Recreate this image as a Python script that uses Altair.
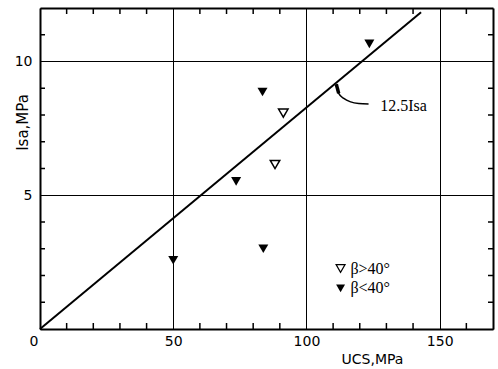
import altair as alt
import pandas as pd

# ---- data ----
filled_ucs = [50, 73.6, 83.5, 83.8, 123.6]
filled_isa = [2.57, 5.52, 8.86, 3.0, 10.66]
open_ucs = [91.3, 88.2]
open_isa = [8.07, 6.15]

fit_ucs = [0, 143]
fit_isa = [0, 11.84]

arc_ucs = [111.2, 112.1, 114.0, 116.6, 119.6, 123.3]
arc_isa = [9.15, 8.81, 8.62, 8.49, 8.43, 8.41]

label_ucs = [127.7]
label_isa = [8.34]
label_txt = ["12.5Isa"]

legend_sym_ucs = [112.8, 112.8]
legend_sym_isa = [2.26, 1.52]
legend_txt_ucs = [116.5, 116.5]
legend_txt = ["β>40°", "β<40°"]

x_major = [0, 50, 100, 150]
y_major = [5, 10]
x_minor = [10, 20, 30, 40, 60, 70, 80, 90, 110, 120, 130, 140, 160]
y_minor = [1, 2, 3, 4, 6, 7, 8, 9, 11]

W, H = 453, 321
XD, YD = [0, 170], [0, 12]

xs = alt.Scale(domain=XD, nice=False, zero=False)
ys = alt.Scale(domain=YD, nice=False, zero=False)

filled_df = pd.DataFrame({"ucs": filled_ucs, "isa": filled_isa})
open_df = pd.DataFrame({"ucs": open_ucs, "isa": open_isa})
fit_df = pd.DataFrame({"ucs": fit_ucs, "isa": fit_isa})
arc_df = pd.DataFrame({"ucs": arc_ucs, "isa": arc_isa, "o": list(range(len(arc_ucs)))})
lab_df = pd.DataFrame({"ucs": label_ucs, "isa": label_isa, "t": label_txt})
leg_open = pd.DataFrame({"ucs": legend_sym_ucs[:1], "isa": legend_sym_isa[:1]})
leg_fill = pd.DataFrame({"ucs": legend_sym_ucs[1:], "isa": legend_sym_isa[1:]})
leg_txt = pd.DataFrame({"ucs": legend_txt_ucs, "isa": legend_sym_isa, "t": legend_txt})

# inward minor tick segments (length: ~6 px vertical, ~5 px horizontal, in data units)
TX = 5 * (XD[1] - XD[0]) / W
TY = 6 * (YD[1] - YD[0]) / H
seg_rows = []
for v in x_minor:
    seg_rows += [{"id": f"b{v}", "o": 0, "ucs": v, "isa": YD[0]},
                 {"id": f"b{v}", "o": 1, "ucs": v, "isa": YD[0] + TY},
                 {"id": f"t{v}", "o": 0, "ucs": v, "isa": YD[1]},
                 {"id": f"t{v}", "o": 1, "ucs": v, "isa": YD[1] - TY}]
for v in y_minor:
    seg_rows += [{"id": f"l{v}", "o": 0, "ucs": XD[0], "isa": v},
                 {"id": f"l{v}", "o": 1, "ucs": XD[0] + TX, "isa": v},
                 {"id": f"r{v}", "o": 0, "ucs": XD[1], "isa": v},
                 {"id": f"r{v}", "o": 1, "ucs": XD[1] - TX, "isa": v}]
seg_df = pd.DataFrame(seg_rows)

# frame: axis domains (left/bottom) + grid lines at the far edges (right/top)
x_axis = alt.Axis(
    values=x_major + [XD[1]], grid=True, gridColor="black", gridOpacity=1,
    gridWidth={"condition": {"test": "datum.value == 170", "value": 2}, "value": 1},
    domain=True, domainColor="black", domainWidth=2,
    ticks=False, labelFont="DejaVu Sans", labelFontSize=14,
    labelColor="black", labelPadding=5,
    labelExpr="datum.value == 170 ? '' : datum.label",
    labelOffset={"condition": {"test": "datum.value == 0", "value": -11}, "value": 0},
    title="UCS,MPa", titleFont="DejaVu Sans", titleFontSize=14,
    titleFontWeight="normal", titleColor="black", titleX=332, titleY=34,
    titleAlign="center", titleBaseline="alphabetic",
)
y_axis = alt.Axis(
    values=[YD[0]] + y_major + [YD[1]], grid=True, gridColor="black", gridOpacity=1,
    gridWidth={"condition": {"test": "datum.value == 12", "value": 2}, "value": 1},
    domain=True, domainColor="black", domainWidth=2,
    ticks=False, labelFont="DejaVu Sans", labelFontSize=14,
    labelColor="black", labelPadding=8,
    labelExpr="(datum.value == 0 || datum.value == 12) ? '' : datum.label",
    title="Isa,MPa", titleFont="DejaVu Sans", titleFontSize=15,
    titleFontWeight="normal", titleColor="black", titleAngle=270,
    titleX=-18, titleY=114, titleAlign="center", titleBaseline="middle",
)

filled = alt.Chart(filled_df).mark_point(
    shape="triangle-down", filled=True, color="black", size=100, opacity=1
).encode(
    x=alt.X("ucs:Q", scale=xs, axis=x_axis),
    y=alt.Y("isa:Q", scale=ys, axis=y_axis),
)
opened = alt.Chart(open_df).mark_point(
    shape="triangle-down", filled=False, color="black", size=90, strokeWidth=1.5, opacity=1
).encode(x=alt.X("ucs:Q", scale=xs), y=alt.Y("isa:Q", scale=ys))

fit = alt.Chart(fit_df).mark_line(color="black", strokeWidth=2).encode(
    x=alt.X("ucs:Q", scale=xs), y=alt.Y("isa:Q", scale=ys)
)
arc = alt.Chart(arc_df).mark_line(color="black", strokeWidth=1.5, interpolate="monotone").encode(
    x=alt.X("ucs:Q", scale=xs), y=alt.Y("isa:Q", scale=ys), order="o:Q"
)
arc_head = alt.Chart(arc_df.iloc[:2]).mark_line(color="black", strokeWidth=3.5).encode(
    x=alt.X("ucs:Q", scale=xs), y=alt.Y("isa:Q", scale=ys), order="o:Q"
)
label = alt.Chart(lab_df).mark_text(
    font="Liberation Serif", fontSize=16, align="left", baseline="middle", color="black"
).encode(x=alt.X("ucs:Q", scale=xs), y=alt.Y("isa:Q", scale=ys), text="t:N")

lo = alt.Chart(leg_open).mark_point(
    shape="triangle-down", filled=False, color="black", size=80, strokeWidth=1.2, opacity=1
).encode(x=alt.X("ucs:Q", scale=xs), y=alt.Y("isa:Q", scale=ys))
lf = alt.Chart(leg_fill).mark_point(
    shape="triangle-down", filled=True, color="black", size=80, opacity=1
).encode(x=alt.X("ucs:Q", scale=xs), y=alt.Y("isa:Q", scale=ys))
lt = alt.Chart(leg_txt).mark_text(
    font="Liberation Serif", fontSize=16, align="left", baseline="middle", color="black"
).encode(x=alt.X("ucs:Q", scale=xs), y=alt.Y("isa:Q", scale=ys), text="t:N")

ticks = alt.Chart(seg_df).mark_line(color="black", strokeWidth=1.5).encode(
    x=alt.X("ucs:Q", scale=xs), y=alt.Y("isa:Q", scale=ys),
    detail="id:N", order="o:Q",
)

chart = alt.layer(
    filled, opened, fit, arc, arc_head, label, lo, lf, lt, ticks
).properties(
    width=W, height=H,
    autosize=alt.AutoSizeParams(type="none"),
    padding={"left": 40, "top": 8, "right": 5, "bottom": 40},
)

chart.save("out.html", embed_options={"renderer": "svg", "actions": False})
